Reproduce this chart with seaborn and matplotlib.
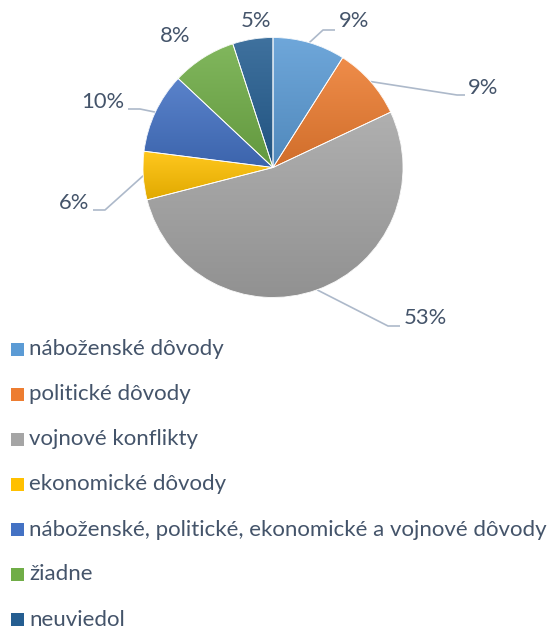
import numpy as np
import matplotlib
matplotlib.use("Agg")
import matplotlib.pyplot as plt
import seaborn as sns
from matplotlib.patches import Rectangle, Wedge
from matplotlib.colors import to_rgb

# Survey answers and their shares (percent)
categories = [
    "náboženské dôvody",
    "politické dôvody",
    "vojnové konflikty",
    "ekonomické dôvody",
    "náboženské, politické, ekonomické a vojnové dôvody",
    "žiadne",
    "neuviedol",
]
shares = [9, 9, 53, 6, 10, 8, 5]
slice_colors = ["#5B9BD5", "#ED7D31", "#A5A5A5", "#FFC000", "#4472C4", "#70AD47", "#255E91"]

TEXT = "#44546A"
LEADER = "#ADB9CA"

sns.set_theme(style="white")
plt.rcParams["font.family"] = ["Lato", "DejaVu Sans"]

W, H = 548, 626
fig = plt.figure(figsize=(W / 100, H / 100), dpi=100)
ax = fig.add_axes([0, 0, 1, 1])

# pixel layout: pie centre and radius
CX, CY, R = 273, 167.5, 130


def px(x, y):
    return ((x - CX) / R, (CY - y) / R)


palette = sns.color_palette(slice_colors)
wedges, _ = ax.pie(
    shares, colors=palette, startangle=90, counterclock=False, radius=1,
    wedgeprops=dict(linewidth=0),
)
ax.set_xlim(-CX / R, (W - CX) / R)
ax.set_ylim((CY - H) / R, CY / R)
ax.set_axis_off()

# vertical gradient on each slice (lighter at top, darker at bottom)
for w, c in zip(wedges, palette):
    base = np.array(to_rgb(c))
    top = base + (1 - base) * 0.12
    bot = base * 0.88
    t = np.linspace(0, 1, 256)[:, None]
    grad = top[None, :] * (1 - t) + bot[None, :] * t
    img = np.repeat(grad[:, None, :], 2, axis=1)
    v = w.get_path().vertices
    ext = (v[:, 0].min(), v[:, 0].max(), v[:, 1].min(), v[:, 1].max())
    im = ax.imshow(img, extent=ext, origin="upper", aspect="auto",
                   interpolation="bilinear", zorder=2)
    im.set_clip_path(w)
    w.set_zorder(1)

# thin white separators on top of the gradients
for w in wedges:
    ax.add_patch(Wedge(w.center, w.r, w.theta1, w.theta2, facecolor="none",
                       edgecolor="white", linewidth=0.6, zorder=3))

# data labels with leader lines
label_pos = [(354, 21), (483, 88), (425, 318), (74, 203), (103, 102), (175, 36), (256, 21)]
leader_pts = [
    [(323, 30), (335, 30)],
    [(457, 95), (465, 95)],
    [(388, 326), (400, 326)],
    [(105, 210), (93, 210)],
    [(140, 109), (128, 109)],
    None,
    None,
]
cum = np.cumsum([0] + shares)
total = float(sum(shares))
for i, val in enumerate(shares):
    mid = (cum[i] + val / 2) / total * 2 * np.pi
    arc_pt = (np.sin(mid), np.cos(mid))
    if leader_pts[i] is not None:
        pts = [arc_pt] + [px(*p) for p in leader_pts[i]]
        xs, ys = zip(*pts)
        ax.plot(xs, ys, color=LEADER, lw=1.2, zorder=1, solid_capstyle="butt")
    lx, ly = px(*label_pos[i])
    ax.text(lx, ly, f"{val}%", ha="center", va="center", fontsize=15.8, color=TEXT)

# legend rows
row0, step = 349.5, 45.0
for i, (name, c) in enumerate(zip(categories, palette)):
    yc = row0 + i * step
    x0, y0 = px(10.5, yc + 6.5)
    ax.add_patch(Rectangle((x0, y0), 13 / R, 13 / R, facecolor=c, edgecolor="none",
                           clip_on=False, zorder=3))
    tx, ty = px(29, yc)
    ax.text(tx, ty, name, ha="left", va="center", fontsize=16, color=TEXT)

fig.savefig("out.png", dpi=100)
